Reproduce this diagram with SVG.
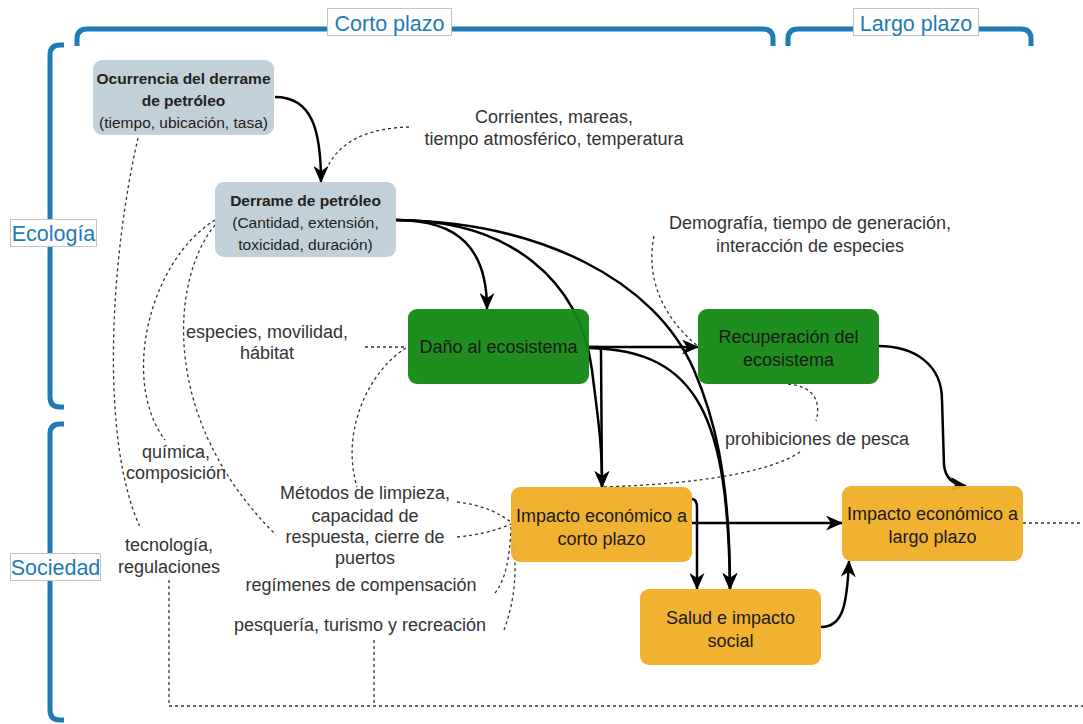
<svg xmlns="http://www.w3.org/2000/svg" width="1083" height="724" viewBox="0 0 1083 724">
<style>
text{font-family:"Liberation Sans",Arial,sans-serif}
.br{fill:none;stroke:#1f7bb6;stroke-width:5}
.bl{fill:#fff;stroke:#c4c4c4;stroke-width:1}
.bt{font-size:21.5px;fill:#1f7bb6;text-anchor:middle}
.e{fill:none;stroke:#000;stroke-width:2.5;marker-end:url(#ah)}
.d{fill:none;stroke:#333;stroke-width:1.3;stroke-dasharray:3 3}
.lb{font-size:18px;fill:#333;text-anchor:middle}
.nt{font-size:18px;fill:#1a1a1a;text-anchor:middle}
.gt{font-size:15.5px;fill:#222;text-anchor:middle}
.b{font-weight:bold}
.grey{fill:#bfcdd7;fill-opacity:0.95}
.green{fill:#128812;fill-opacity:0.95}
.orange{fill:#f0ad26;fill-opacity:0.95}
</style>
<defs>
<marker id="ah" viewBox="0 0 17 15" refX="16" refY="7.5" markerWidth="17" markerHeight="15" markerUnits="userSpaceOnUse" orient="auto">
<path d="M0,0 L17,7.5 L0,15 L5,7.5 z" fill="#000"/>
</marker>
</defs>
<rect width="1083" height="724" fill="#fff"/>

<g id="brackets">
<path class="br" d="M77,46 V39 Q77,29 87,29 H763 Q773,29 773,39 V46"/>
<path class="br" d="M788,46 V39 Q788,29 798,29 H1021 Q1031,29 1031,39 V46"/>
<path class="br" d="M64,45 H60 Q50,45 50,55 V397 Q50,407 60,407 H64"/>
<path class="br" d="M64,424 H60 Q50,424 50,434 V710 Q50,720 60,720 H64"/>
<rect class="bl" x="327.5" y="8.5" width="124" height="27"/>
<text class="bt" x="389.5" y="31">Corto plazo</text>
<rect class="bl" x="853.5" y="8.5" width="125" height="27"/>
<text class="bt" x="916" y="31">Largo plazo</text>
<rect class="bl" x="10.5" y="219.5" width="86" height="27"/>
<text class="bt" x="53.5" y="241">Ecología</text>
<rect class="bl" x="10.5" y="553.5" width="90" height="27"/>
<text class="bt" x="55.5" y="575">Sociedad</text>
</g>

<g id="connectors">
<path class="d" d="M138,138 C110,260 100,440 140,527"/>
<path class="d" d="M215,220 C150,260 120,380 165,440"/>
<path class="d" d="M215,225 C170,280 160,420 276,535"/>
<path class="d" d="M365,347 L406,347"/>
<path class="d" d="M406,348 C370,370 340,430 357,487"/>
<path class="d" d="M409,127 C370,128 340,140 327,168"/>
<path class="d" d="M654,236 C645,280 665,320 698,346"/>
<path class="d" d="M788,384 C812,386 822,400 816,421"/>
<path class="d" d="M800,452 C770,472 700,484 602,487"/>
<path class="d" d="M457,502 C482,505 497,512 511,522"/>
<path class="d" d="M457,537 C480,535 497,530 511,524"/>
<path class="d" d="M495,593 C505,580 510,560 511,526"/>
<path class="d" d="M504,630 C515,600 518,570 512,530"/>
<path class="d" d="M169,580 V706 H1083"/>
<path class="d" d="M374,640 V706"/>
<path class="d" d="M1023,523 H1083"/>
<path class="e" d="M275,97 C312,97 321,130 321,182"/>
<path class="e" d="M396,220 C460,220 487,250 487,309"/>
<path class="e" d="M396,220 C510,220 580,280 592,370 C598,420 602,440 602,487"/>
<path class="e" d="M396,220 C540,222 655,280 694,370 C712,412 730,470 730,589"/>
<path class="e" d="M589,347 L698,347"/>
<path class="e" d="M589,347 L598,347 Q601,347 601,352 L602,487"/>
<path class="e" d="M589,348 C700,350 728,420 730,589"/>
<path class="e" d="M692,499 Q697,499 697,508 L697,589"/>
<path class="e" d="M692,523 L842,523"/>
<path class="e" d="M878,346 C915,346 942,365 942,400 L944,465 Q946,484 966,486"/>
<path class="e" d="M821,627 C843,627 847,605 849,561"/>
</g>

<g id="n-ocurrencia">
<rect class="grey" x="93" y="60" width="181" height="75" rx="9"/>
<text class="gt b" x="183.5" y="84">Ocurrencia del derrame</text>
<text class="gt b" x="183.5" y="106">de petróleo</text>
<text class="gt" x="183.5" y="128">(tiempo, ubicación, tasa)</text>
</g>
<g id="n-derrame">
<rect class="grey" x="215" y="182" width="181" height="75" rx="9"/>
<text class="gt b" x="305.5" y="206">Derrame de petróleo</text>
<text class="gt" x="305.5" y="228">(Cantidad, extensión,</text>
<text class="gt" x="305.5" y="250">toxicidad, duración)</text>
</g>
<g id="n-dano">
<rect class="green" x="408" y="309" width="181" height="75" rx="9"/>
<text class="nt" x="498.5" y="353">Daño al ecosistema</text>
</g>
<g id="n-recuperacion">
<rect class="green" x="698" y="309" width="181" height="75" rx="9"/>
<text class="nt" x="788.5" y="343">Recuperación del</text>
<text class="nt" x="788.5" y="366">ecosistema</text>
</g>
<g id="n-corto">
<rect class="orange" x="511" y="487" width="181" height="75" rx="9"/>
<text class="nt" x="601.5" y="522">Impacto económico a</text>
<text class="nt" x="601.5" y="545">corto plazo</text>
</g>
<g id="n-largo">
<rect class="orange" x="842" y="486" width="181" height="75" rx="9"/>
<text class="nt" x="932.5" y="520">Impacto económico a</text>
<text class="nt" x="932.5" y="543">largo plazo</text>
</g>
<g id="n-salud">
<rect class="orange" x="640" y="589" width="181" height="76" rx="9"/>
<text class="nt" x="730.5" y="624">Salud e impacto</text>
<text class="nt" x="730.5" y="647">social</text>
</g>

<g id="labels">
<text class="lb" x="554" y="123">Corrientes, mareas,</text>
<text class="lb" x="554" y="145">tiempo atmosférico, temperatura</text>
<text class="lb" x="810" y="229">Demografía, tiempo de generación,</text>
<text class="lb" x="810" y="252">interacción de especies</text>
<text class="lb" x="267" y="338">especies, movilidad,</text>
<text class="lb" x="267" y="359">hábitat</text>
<text class="lb" x="176" y="458">química,</text>
<text class="lb" x="176" y="479">composición</text>
<text class="lb" x="169" y="551">tecnología,</text>
<text class="lb" x="169" y="573">regulaciones</text>
<text class="lb" x="365" y="499">Métodos de limpieza,</text>
<text class="lb" x="365" y="522">capacidad de</text>
<text class="lb" x="365" y="543">respuesta, cierre de</text>
<text class="lb" x="365" y="564">puertos</text>
<text class="lb" x="361" y="591">regímenes de compensación</text>
<text class="lb" x="360" y="631">pesquería, turismo y recreación</text>
<text class="lb" x="817" y="445">prohibiciones de pesca</text>
</g>
</svg>
